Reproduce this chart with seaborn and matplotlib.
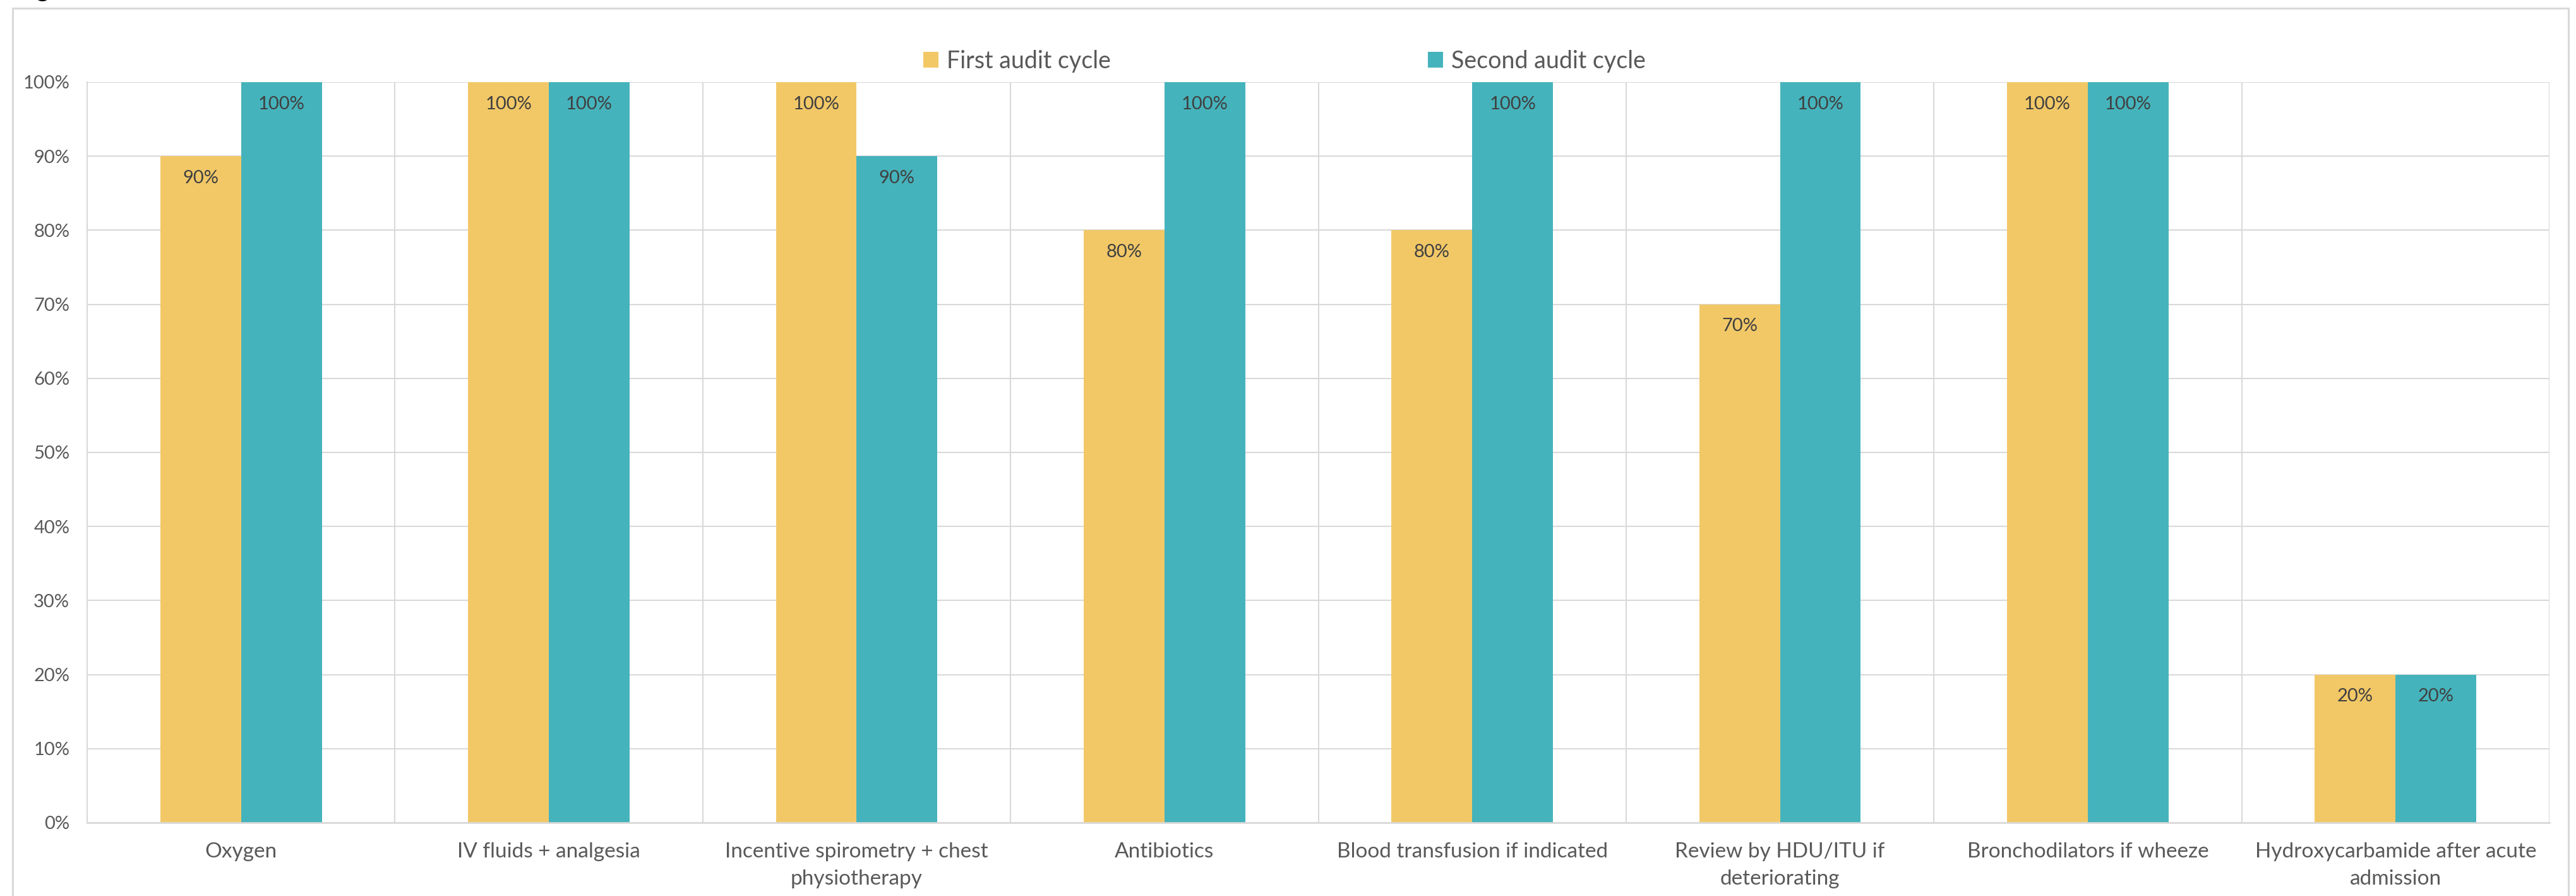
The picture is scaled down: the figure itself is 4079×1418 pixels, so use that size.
import matplotlib
matplotlib.use("Agg")
import matplotlib.pyplot as plt
import seaborn as sns
import pandas as pd
from matplotlib.patches import Rectangle
from matplotlib.ticker import FixedLocator

categories = [
    "Oxygen",
    "IV fluids + analgesia",
    "Incentive spirometry + chest physiotherapy",
    "Antibiotics",
    "Blood transfusion if indicated",
    "Review by HDU/ITU if deteriorating",
    "Bronchodilators if wheeze",
    "Hydroxycarbamide after acute admission",
]
tick_labels = [
    "Oxygen",
    "IV fluids + analgesia",
    "Incentive spirometry + chest\nphysiotherapy",
    "Antibiotics",
    "Blood transfusion if indicated",
    "Review by HDU/ITU if\ndeteriorating",
    "Bronchodilators if wheeze",
    "Hydroxycarbamide after acute\nadmission",
]
series_names = ["First audit cycle", "Second audit cycle"]
first_cycle = [90, 100, 100, 80, 80, 70, 100, 20]
second_cycle = [100, 100, 90, 100, 100, 100, 100, 20]
y_ticks = [0, 10, 20, 30, 40, 50, 60, 70, 80, 90, 100]

colors = ["#F2C867", "#45B3BC"]

df = pd.DataFrame({
    "category": categories * 2,
    "value": first_cycle + second_cycle,
    "cycle": [series_names[0]] * len(categories) + [series_names[1]] * len(categories),
})

sns.set_theme(style="white")
plt.rcParams["font.family"] = ["Lato", "DejaVu Sans"]

W, H = 4079, 1418
fig = plt.figure(figsize=(W / 100, H / 100), dpi=100)
ax = fig.add_axes([138 / W, (H - 1302) / H, (4037 - 138) / W, (1302 - 130) / H])

sns.barplot(data=df, x="category", y="value", hue="cycle", order=categories,
            hue_order=series_names, palette=colors, saturation=1, width=0.525,
            linewidth=0, ax=ax, legend=True, zorder=3)

ax.set_xlim(-0.5, len(categories) - 0.5)
ax.set_ylim(0, 100)
ax.set_yticks(y_ticks)
ax.set_yticklabels([f"{v}%" for v in y_ticks], fontsize=21, color="#595959")
ax.set_xticks(range(len(categories)))
ax.set_xticklabels(tick_labels, fontsize=24, color="#595959", linespacing=1.58)
ax.tick_params(axis="x", length=0, pad=22)
ax.tick_params(axis="y", length=0, pad=20)
ax.set_xlabel("")
ax.set_ylabel("")

ax.xaxis.set_minor_locator(FixedLocator([i - 0.5 for i in range(len(categories) + 1)]))
ax.grid(axis="y", which="major", color="#D9D9D9", linewidth=1.5, zorder=0)
ax.grid(axis="x", which="minor", color="#D9D9D9", linewidth=1.5, zorder=0)
ax.grid(axis="x", which="major", visible=False)
ax.tick_params(axis="x", which="minor", length=0)
for side in ["top", "right"]:
    ax.spines[side].set_visible(False)
ax.spines["left"].set_color("#D9D9D9")
ax.spines["left"].set_linewidth(1.5)
ax.spines["bottom"].set_color("#D9D9D9")
ax.spines["bottom"].set_linewidth(2.0)
ax.spines["bottom"].set_zorder(4)

for container in ax.containers:
    for bar in container:
        h = bar.get_height()
        ax.annotate(f"{h:.0f}%", xy=(bar.get_x() + bar.get_width() / 2, h),
                    xytext=(0, -25), textcoords="offset points",
                    ha="center", va="center", fontsize=21, color="#404040", zorder=5)

handles, labels = ax.get_legend_handles_labels()
ax.get_legend().remove()
fig.legend(handles, labels, loc="center", bbox_to_anchor=(2034 / W, 1 - 97 / H),
           ncol=2, frameon=False, fontsize=27, labelcolor="#595959",
           handlelength=0.64, handleheight=0.64, handletextpad=0.35,
           columnspacing=13.4, borderpad=0)

fig.add_artist(Rectangle((20 / W, -0.1), (4067 - 20) / W, (H - 13) / H + 0.1,
                         transform=fig.transFigure, fill=False,
                         edgecolor="#D9D9D9", linewidth=2.2))

fig.text(57 / W, 1 + 5 / H, "g", fontsize=30, color="black", va="baseline", ha="left")

fig.savefig("out.png", dpi=100, facecolor="white")
